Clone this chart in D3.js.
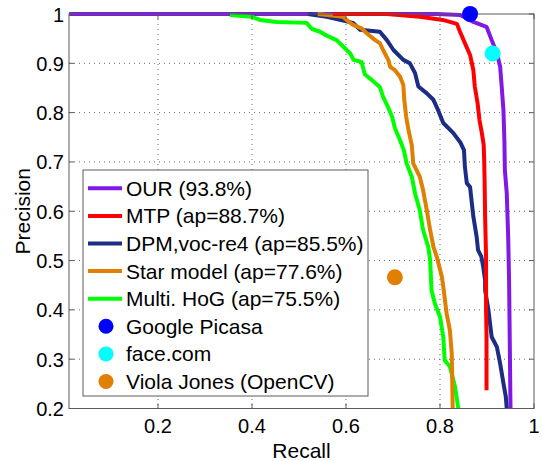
<!DOCTYPE html>
<html><head><meta charset="utf-8">
<script src="https://cdn.jsdelivr.net/npm/d3@7"></script>
<style>html,body{margin:0;padding:0;background:#fff;}svg{display:block;font-family:"Liberation Sans",Arial,Helvetica,sans-serif;}</style>
</head><body>
<svg id="c" width="542" height="461"></svg>
<script>
const xTicks = [0.2, 0.4, 0.6, 0.8, 1];
const yTicks = [0.2, 0.3, 0.4, 0.5, 0.6, 0.7, 0.8, 0.9, 1];
const xTickLabels = ["0.2", "0.4", "0.6", "0.8", "1"];
const yTickLabels = ["0.2", "0.3", "0.4", "0.5", "0.6", "0.7", "0.8", "0.9", "1"];

const seriesNames = ["OUR (93.8%)", "MTP (ap=88.7%)", "DPM,voc-re4 (ap=85.5%)", "Star model (ap=77.6%)", "Multi. HoG (ap=75.5%)"];
const seriesColors = ["#8019e6", "#ff0000", "#1b2d84", "#e07f00", "#00ff00"];

const ourRecall = [0.011, 0.793, 0.843, 0.871, 0.899, 0.910, 0.921, 0.928, 0.931, 0.935, 0.937, 0.938, 0.942, 0.945, 0.947, 0.948, 0.950];
const ourPrecision = [1, 1, 0.998, 0.984, 0.974, 0.947, 0.921, 0.893, 0.856, 0.805, 0.744, 0.684, 0.637, 0.550, 0.460, 0.373, 0.2];

const mtpRecall = [0.572, 0.687, 0.757, 0.806, 0.836, 0.843, 0.853, 0.864, 0.871, 0.874, 0.880, 0.884, 0.889, 0.893, 0.894, 0.895, 0.896, 0.898, 0.898, 0.899, 0.899];
const mtpPrecision = [1, 1, 0.9945, 0.988, 0.980, 0.963, 0.941, 0.917, 0.886, 0.853, 0.819, 0.785, 0.759, 0.734, 0.704, 0.657, 0.589, 0.508, 0.400, 0.347, 0.237];

const dpmRecall = [0.519, 0.559, 0.615, 0.630, 0.672, 0.687, 0.701, 0.722, 0.736, 0.747, 0.754, 0.772, 0.786, 0.796, 0.807, 0.828, 0.843, 0.851, 0.853, 0.857, 0.864, 0.867, 0.871, 0.878, 0.881, 0.888, 0.892, 0.896, 0.896, 0.903, 0.910, 0.921, 0.928, 0.935, 0.940, 0.942];
const dpmPrecision = [1, 0.9945, 0.982, 0.968, 0.964, 0.947, 0.927, 0.907, 0.900, 0.880, 0.853, 0.839, 0.826, 0.805, 0.779, 0.759, 0.740, 0.724, 0.690, 0.657, 0.649, 0.623, 0.589, 0.548, 0.521, 0.508, 0.487, 0.460, 0.440, 0.400, 0.345, 0.325, 0.291, 0.251, 0.224, 0.2];

const starRecall = [0.540, 0.594, 0.601, 0.615, 0.633, 0.644, 0.662, 0.672, 0.679, 0.690, 0.694, 0.704, 0.715, 0.722, 0.724, 0.728, 0.733, 0.740, 0.743, 0.757, 0.764, 0.772, 0.779, 0.786, 0.793, 0.804, 0.807, 0.814, 0.821, 0.825, 0.827];
const starPrecision = [1, 0.9945, 0.988, 0.978, 0.971, 0.961, 0.947, 0.941, 0.927, 0.907, 0.893, 0.886, 0.873, 0.856, 0.826, 0.792, 0.765, 0.734, 0.697, 0.670, 0.643, 0.602, 0.562, 0.528, 0.508, 0.467, 0.447, 0.393, 0.359, 0.312, 0.2];

const hogRecall = [0.353, 0.399, 0.417, 0.453, 0.516, 0.527, 0.545, 0.559, 0.580, 0.594, 0.609, 0.616, 0.633, 0.640, 0.655, 0.672, 0.679, 0.689, 0.698, 0.704, 0.715, 0.723, 0.729, 0.740, 0.747, 0.757, 0.764, 0.775, 0.779, 0.782, 0.789, 0.800, 0.807, 0.810, 0.821, 0.832, 0.839];
const hogPrecision = [0.998, 0.9945, 0.988, 0.984, 0.982, 0.970, 0.964, 0.956, 0.947, 0.934, 0.920, 0.907, 0.903, 0.878, 0.866, 0.852, 0.832, 0.812, 0.792, 0.769, 0.744, 0.724, 0.697, 0.670, 0.636, 0.602, 0.562, 0.528, 0.501, 0.440, 0.413, 0.386, 0.345, 0.298, 0.285, 0.244, 0.2];

const pointNames = ["Google Picasa", "face.com", "Viola Jones (OpenCV)"];
const pointColors = ["#0000ff", "#00ffff", "#e07f00"];
const pointRecall = [0.864, 0.912, 0.704];
const pointPrecision = [1.0, 0.920, 0.466];

const svg = d3.select("#c");
const L = 69, T = 14, R = 534, B = 408.5;
const x = d3.scaleLinear().domain([0.0107, 1]).range([L, R]);
const y = d3.scaleLinear().domain([0.2, 1]).range([B, T]);

// grid
const grid = svg.append("g");
grid.selectAll("line.gx").data(xTicks.filter(d => d < 1)).join("line")
  .attr("x1", d => x(d)).attr("x2", d => x(d)).attr("y1", T).attr("y2", B)
  .attr("stroke", "#666").attr("stroke-width", 1).attr("stroke-dasharray", "1,4");
grid.selectAll("line.gy").data(yTicks.filter(d => d > 0.2 && d < 1)).join("line")
  .attr("x1", L).attr("x2", R).attr("y1", d => y(d)).attr("y2", d => y(d))
  .attr("stroke", "#666").attr("stroke-width", 1).attr("stroke-dasharray", "1,4");

// clip
svg.append("clipPath").attr("id", "pc").append("rect").attr("x", L).attr("y", T - 3).attr("width", R - L).attr("height", B - T + 3);

const series = [
  {r: ourRecall, p: ourPrecision, c: seriesColors[0]},
  {r: hogRecall, p: hogPrecision, c: seriesColors[4]},
  {r: dpmRecall, p: dpmPrecision, c: seriesColors[2]},
  {r: starRecall, p: starPrecision, c: seriesColors[3]},
  {r: mtpRecall, p: mtpPrecision, c: seriesColors[1]}
];
const line = d3.line().x(d => x(d[0])).y(d => y(d[1]));
const lg = svg.append("g").attr("clip-path", "url(#pc)");
series.forEach(s => {
  lg.append("path").attr("d", line(s.r.map((v, i) => [v, s.p[i]])))
    .attr("fill", "none").attr("stroke", s.c).attr("stroke-width", 4).attr("stroke-linejoin", "round");
});

// axes box
svg.append("rect").attr("x", L).attr("y", T).attr("width", R - L).attr("height", B - T)
  .attr("fill", "none").attr("stroke", "#5a5a5a").attr("stroke-width", 1);

// ticks (inside, all four sides)
const tk = svg.append("g").attr("stroke", "#5a5a5a").attr("stroke-width", 1);
xTicks.forEach(d => {
  tk.append("line").attr("x1", x(d)).attr("x2", x(d)).attr("y1", B).attr("y2", B - 5);
  tk.append("line").attr("x1", x(d)).attr("x2", x(d)).attr("y1", T).attr("y2", T + 5);
});
yTicks.forEach(d => {
  tk.append("line").attr("x1", L).attr("x2", L + 5).attr("y1", y(d)).attr("y2", y(d));
  tk.append("line").attr("x1", R).attr("x2", R - 5).attr("y1", y(d)).attr("y2", y(d));
});

// tick labels
svg.append("g").selectAll("text").data(xTicks).join("text")
  .attr("x", d => x(d)).attr("y", 433).attr("text-anchor", "middle")
  .attr("font-size", 20).attr("fill", "#000").text((d, i) => xTickLabels[i]);
svg.append("g").selectAll("text").data(yTicks).join("text")
  .attr("x", 64).attr("y", d => y(d) + 7.5).attr("text-anchor", "end")
  .attr("font-size", 20).attr("fill", "#000").text((d, i) => yTickLabels[i]);

// axis labels
svg.append("text").attr("x", (L + R) / 2).attr("y", 458).attr("text-anchor", "middle")
  .attr("font-size", 21).text("Recall");
svg.append("text").attr("transform", `translate(30,${(T + B) / 2}) rotate(-90)`)
  .attr("text-anchor", "middle").attr("font-size", 21).text("Precision");

// points
svg.append("g").selectAll("circle").data(pointRecall).join("circle")
  .attr("cx", d => x(d)).attr("cy", (d, i) => y(pointPrecision[i])).attr("r", 8)
  .attr("fill", (d, i) => pointColors[i]);

// legend
const lgX = 83, lgY = 170, lgW = 285, lgH = 226, rowH = 27.6, row0 = 188.3;
const leg = svg.append("g");
leg.append("rect").attr("x", lgX).attr("y", lgY).attr("width", lgW).attr("height", lgH)
  .attr("fill", "#fff").attr("stroke", "#5a5a5a").attr("stroke-width", 1);
seriesNames.forEach((n, i) => {
  const yy = row0 + i * rowH;
  leg.append("line").attr("x1", 88).attr("x2", 122).attr("y1", yy).attr("y2", yy)
    .attr("stroke", seriesColors[i]).attr("stroke-width", 4);
  leg.append("text").attr("x", 126).attr("y", yy + 7.5).attr("font-size", 21).text(n);
});
pointNames.forEach((n, i) => {
  const yy = row0 + (i + 5) * rowH;
  leg.append("circle").attr("cx", 106).attr("cy", yy).attr("r", 7.5).attr("fill", pointColors[i]);
  leg.append("text").attr("x", 126).attr("y", yy + 7.5).attr("font-size", 21).text(n);
});
</script>
</body></html>
